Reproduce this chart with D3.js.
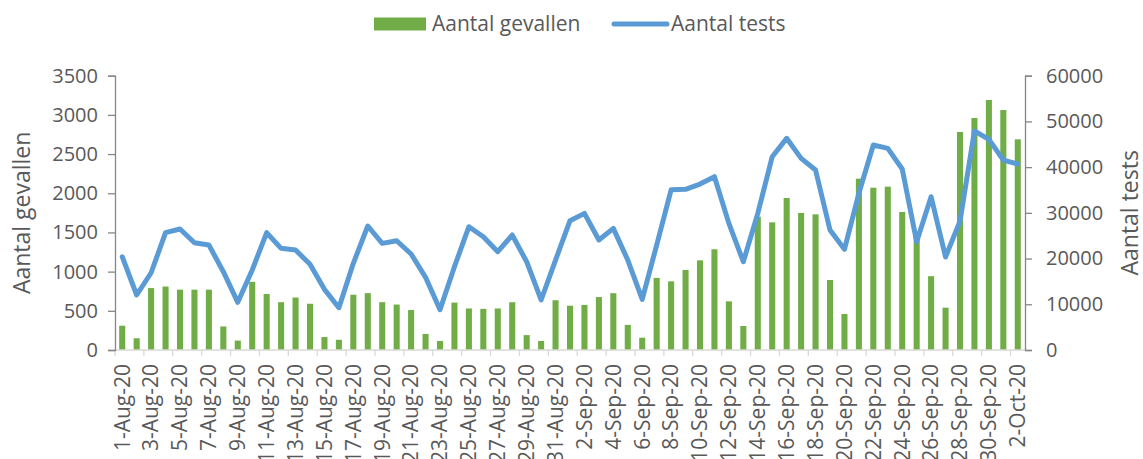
<!DOCTYPE html>
<html lang="nl">
<head>
<meta charset="UTF-8">
<title>Aantal gevallen en tests</title>
<script src="https://d3js.org/d3.v7.min.js"></script>
<style>
  body { margin: 0; background: #fff; }
  text { font-family: "Open Sans", sans-serif; fill: #595959; }
</style>
</head>
<body>
<div id="chart"></div>
<script>
// dates, one per day
const dates = [
  "1-Aug-20","2-Aug-20","3-Aug-20","4-Aug-20","5-Aug-20","6-Aug-20","7-Aug-20","8-Aug-20","9-Aug-20","10-Aug-20",
  "11-Aug-20","12-Aug-20","13-Aug-20","14-Aug-20","15-Aug-20","16-Aug-20","17-Aug-20","18-Aug-20","19-Aug-20","20-Aug-20",
  "21-Aug-20","22-Aug-20","23-Aug-20","24-Aug-20","25-Aug-20","26-Aug-20","27-Aug-20","28-Aug-20","29-Aug-20","30-Aug-20",
  "31-Aug-20","1-Sep-20","2-Sep-20","3-Sep-20","4-Sep-20","5-Sep-20","6-Sep-20","7-Sep-20","8-Sep-20","9-Sep-20",
  "10-Sep-20","11-Sep-20","12-Sep-20","13-Sep-20","14-Sep-20","15-Sep-20","16-Sep-20","17-Sep-20","18-Sep-20","19-Sep-20",
  "20-Sep-20","21-Sep-20","22-Sep-20","23-Sep-20","24-Sep-20","25-Sep-20","26-Sep-20","27-Sep-20","28-Sep-20","29-Sep-20",
  "30-Sep-20","1-Oct-20","2-Oct-20"
];

// Aantal gevallen (bars, left axis)
const gevallen = [
  310, 150, 790, 810, 770, 770, 770, 300, 120, 870,
  715, 610, 670, 590, 165, 130, 705, 725, 610, 580,
  510, 205, 115, 605, 530, 525, 530, 610, 190, 115,
  635, 565, 575, 675, 725, 320, 157, 920, 876, 1021,
  1144, 1285, 621, 306, 1700, 1629, 1940, 1748, 1731, 893,
  459, 2186, 2071, 2084, 1761, 1450, 942, 540, 2782, 2960,
  3190, 3062, 2688
];

// Aantal tests (line, right axis)
const tests = [
  20400, 12030, 16900, 25660, 26460, 23470, 22960, 17130, 10430, 17500,
  25660, 22240, 21870, 18740, 13270, 9250, 18960, 27120, 23330, 23900,
  21000, 15900, 8800, 18220, 26970, 24780, 21500, 25150, 19310, 10940,
  19680, 28280, 29890, 24060, 26610, 19680, 11090, 22960, 35050, 35140,
  36300, 37900, 27700, 19310, 29890, 42280, 46300, 41920, 39370, 26240,
  22020, 34270, 44830, 44100, 39600, 23690, 33530, 20350, 28200, 47900,
  46080, 41550, 40680
];

const leftTicks = [0, 500, 1000, 1500, 2000, 2500, 3000, 3500];
const rightTicks = [0, 10000, 20000, 30000, 40000, 50000, 60000];

const W = 1143, H = 459;
const plot = { left: 115, right: 1025, top: 75.7, bottom: 350 };

const svg = d3.select("#chart").append("svg")
  .attr("width", W).attr("height", H);

// scales
const x = d3.scaleBand().domain(dates).range([plot.left, plot.right]).padding(0);
const xBar = d3.scaleBand().domain(["bar"]).range([0, x.bandwidth()])
  .paddingInner(0.58).paddingOuter(0.29);
const yL = d3.scaleLinear().domain([0, 3500]).range([plot.bottom, plot.top]);
const yR = d3.scaleLinear().domain([0, 60000]).range([plot.bottom, plot.top]);

const green = "#70ad47", blue = "#5b9bd5";

// bars
svg.append("g").selectAll("rect")
  .data(dates)
  .join("rect")
  .attr("x", d => x(d) + xBar("bar"))
  .attr("width", xBar.bandwidth())
  .attr("y", (d, i) => yL(gevallen[i]))
  .attr("height", (d, i) => yL(0) - yL(gevallen[i]))
  .attr("fill", green);

// category axis
const xAxis = svg.append("g");
xAxis.append("line")
  .attr("x1", plot.left).attr("x2", plot.right)
  .attr("y1", plot.bottom).attr("y2", plot.bottom)
  .attr("stroke", "#d9d9d9").attr("stroke-width", 1.3);
const labelled = dates.filter((d, i) => i % 2 === 0);
xAxis.selectAll("line.tick")
  .data(labelled)
  .join("line")
  .attr("class", "tick")
  .attr("x1", d => x(d)).attr("x2", d => x(d))
  .attr("y1", plot.bottom).attr("y2", plot.bottom + 6)
  .attr("stroke", "#d9d9d9").attr("stroke-width", 1.3);
xAxis.selectAll("text")
  .data(labelled)
  .join("text")
  .attr("transform", d => `translate(${x(d) + x.bandwidth() / 2},${plot.bottom + 14}) rotate(-90)`)
  .attr("text-anchor", "end")
  .attr("dy", "0.35em")
  .style("font-size", "21px")
  .text(d => d);

// left axis
const axL = svg.append("g")
  .attr("transform", `translate(${plot.left},0)`)
  .call(d3.axisLeft(yL).tickValues(leftTicks).tickSize(7).tickPadding(10).tickFormat(d3.format("d")));
axL.select(".domain").attr("stroke", "#868686").attr("stroke-width", 1.3);
axL.selectAll(".tick line").attr("stroke", "#868686").attr("stroke-width", 1.3);
axL.selectAll(".tick text").style("font-size", "20px").attr("fill", "#595959")
  .style("font-family", "'Open Sans', sans-serif");

// right axis
const axR = svg.append("g")
  .attr("transform", `translate(${plot.right},0)`)
  .call(d3.axisRight(yR).tickValues(rightTicks).tickSize(7).tickPadding(14).tickFormat(d3.format("d")));
axR.select(".domain").attr("stroke", "#868686").attr("stroke-width", 1.3);
axR.selectAll(".tick line").attr("stroke", "#868686").attr("stroke-width", 1.3);
axR.selectAll(".tick text").style("font-size", "20px").attr("fill", "#595959")
  .style("font-family", "'Open Sans', sans-serif");

// tests line
const line = d3.line()
  .x((d, i) => x(dates[i]) + x.bandwidth() / 2)
  .y(d => yR(d));
svg.append("path")
  .datum(tests)
  .attr("d", line)
  .attr("fill", "none")
  .attr("stroke", blue)
  .attr("stroke-width", 5)
  .attr("stroke-linejoin", "round")
  .attr("stroke-linecap", "round");

// axis titles
svg.append("text")
  .attr("transform", `translate(30,${(plot.top + plot.bottom) / 2}) rotate(-90)`)
  .attr("text-anchor", "middle")
  .style("font-size", "23px")
  .text("Aantal gevallen");
svg.append("text")
  .attr("transform", `translate(1138,${(plot.top + plot.bottom) / 2}) rotate(-90)`)
  .attr("text-anchor", "middle")
  .style("font-size", "23px")
  .text("Aantal tests");

// legend
const legend = svg.append("g");
legend.append("rect")
  .attr("x", 374).attr("y", 17.5).attr("width", 52).attr("height", 13)
  .attr("fill", green);
legend.append("text")
  .attr("x", 432).attr("y", 31)
  .style("font-size", "21px")
  .text("Aantal gevallen");
legend.append("line")
  .attr("x1", 614).attr("x2", 667).attr("y1", 24).attr("y2", 24)
  .attr("stroke", blue).attr("stroke-width", 5).attr("stroke-linecap", "round");
legend.append("text")
  .attr("x", 671).attr("y", 31)
  .style("font-size", "21px")
  .text("Aantal tests");
</script>
</body>
</html>
